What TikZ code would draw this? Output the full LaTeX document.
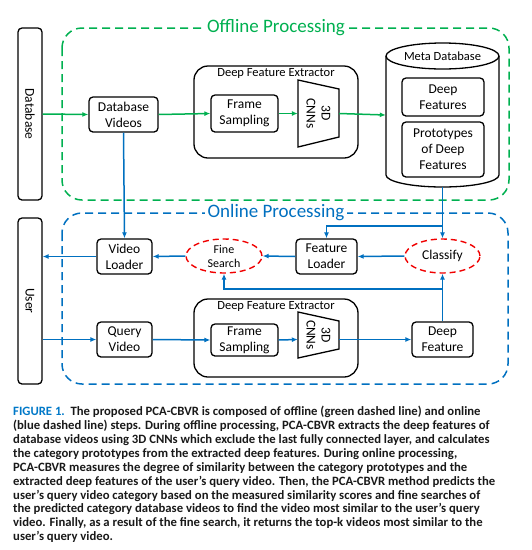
\documentclass[tikz,border=0pt]{standalone}
\usepackage{fontspec}
\setmainfont{Carlito}
\usetikzlibrary{arrows.meta,shapes.geometric}
\definecolor{grn}{RGB}{0,176,80}
\definecolor{blu}{RGB}{0,112,192}
\definecolor{rd}{RGB}{240,0,0}
\definecolor{capblue}{RGB}{0,120,200}
\begin{document}
\begin{tikzpicture}[x=1pt,y=-1pt,
  box/.style={draw, line width=1.3pt, rounded corners=4pt, align=center, inner sep=0pt, font=\fontsize{13.5}{16}\selectfont},
  bar/.style={draw, line width=1.3pt, rounded corners=4pt, inner sep=0pt, minimum width=24pt},
  ghost/.style={inner sep=0pt, draw=none},
  redell/.style={draw=rd, dashed, dash pattern=on 6pt off 4pt, line width=1.4pt, ellipse, inner sep=0pt, align=center},
  garr/.style={draw=grn, line width=1.5pt, -{Latex[length=6pt,width=5pt]}},
  barr/.style={draw=blu, line width=1.5pt, -{Latex[length=6pt,width=5pt]}},
  region/.style={line width=1.5pt, dash pattern=on 8pt off 5pt, rounded corners=20pt},
  rtitle/.style={fill=white, inner sep=3pt, font=\fontsize{19}{22}\selectfont},
  dfelabel/.style={font=\fontsize{12.5}{14}\selectfont},
  trap/.style={line width=1.3pt}
]
\useasboundingbox (0,0) rectangle (532,550);

% regions
\draw[region, draw=grn] (62,28) rectangle (509,200);
\node[rtitle, text=grn] (offt) at (276,28) {Offline Processing};
\draw[region, draw=blu] (62,213) rectangle (508,384);
\node[rtitle, text=blu] (onlt) at (276,213) {Online Processing};

% side bars
\node[bar, minimum height=172pt] (db) at (30,114) {};
\node[rotate=-90, font=\fontsize{13.5}{16}\selectfont] (dbt) at (30,114) {Database};
\node[bar, minimum height=166pt] (usr) at (30,301) {};
\node[rotate=-90, font=\fontsize{13.5}{16}\selectfont] (usrt) at (30,301) {User};

% offline
\node[box, minimum width=69pt, minimum height=35pt] (dbv) at (123.5,114.5) {Database\\Videos};
\node[box, rounded corners=14pt, minimum width=164pt, minimum height=92pt] (dfe1) at (276,112) {};
\node[dfelabel] (dfe1t) at (276,73) {Deep Feature Extractor};
\node[box, minimum width=67pt, minimum height=37pt] (fs1) at (244.5,113.5) {Frame\\Sampling};
\draw[trap] (298,80) -- (339,89) -- (339,137) -- (298,147) -- cycle;
\node[ghost, minimum width=41pt, minimum height=48pt] (cnn1) at (318.5,113.5) {};
\node[rotate=-90, align=center, font=\fontsize{13.5}{15}\selectfont] (cnn1t) at (318.5,113.5) {3D\\CNNs};

% meta database cylinder
\draw[line width=1.3pt, fill=white] (386,56) -- (386,175) arc[start angle=180, end angle=360, x radius=56.5pt, y radius=12pt] -- (499,56);
\draw[line width=1.3pt] (442.5,56) ellipse [x radius=56.5pt, y radius=13pt];
\node[ghost, minimum width=113pt, minimum height=144pt] (meta) at (442.5,115) {};
\node[font=\fontsize{12.5}{14}\selectfont] (metat) at (442.5,56) {Meta Database};
\node[box, minimum width=82pt, minimum height=38pt] (dfeat) at (443,97) {Deep\\Features};
\node[box, minimum width=82pt, minimum height=55pt] (proto) at (443,149.5) {Prototypes\\of Deep\\Features};

% online
\node[box, minimum width=55pt, minimum height=35pt] (vl) at (124.5,256.5) {Video\\Loader};
\node[redell, minimum width=76pt, minimum height=34pt, font=\fontsize{12}{14}\selectfont] (fsr) at (224,256) {Fine\\Search};
\node[box, minimum width=61pt, minimum height=35pt] (fl) at (326.5,256.5) {Feature\\Loader};
\node[redell, minimum width=75pt, minimum height=34pt, font=\fontsize{13.5}{16}\selectfont] (cls) at (442.5,256) {Classify};

\node[box, minimum width=55pt, minimum height=35pt] (qv) at (124.5,339.5) {Query\\Video};
\node[box, rounded corners=14pt, minimum width=164pt, minimum height=78pt] (dfe2) at (276,338) {};
\node[dfelabel] (dfe2t) at (276,306) {Deep Feature Extractor};
\node[box, minimum width=67pt, minimum height=32pt] (fs2) at (244.5,340) {Frame\\Sampling};
\draw[trap] (298,312) -- (339,321) -- (339,349) -- (298,358) -- cycle;
\node[ghost, minimum width=41pt, minimum height=28pt] (cnn2) at (318.5,339.5) {};
\node[rotate=-90, align=center, font=\fontsize{13.5}{15}\selectfont] (cnn2t) at (318.5,335) {3D\\CNNs};
\node[box, minimum width=61pt, minimum height=35pt] (df) at (442.5,339.5) {Deep\\Feature};

% offline arrows
\draw[garr] (db.east) -- (dbv.west);
\draw[garr] (dbv.east) -- (fs1.west);
\draw[garr] (fs1.east) -- (cnn1.west);
\draw[garr] (cnn1.east) -- (meta.west);

% online arrows
\coordinate (br1) at (442.5,226);
\coordinate (br2) at (442.5,289);
\draw[barr] (dbv.south) -- (vl.north);
\draw[barr] (meta.south) -- (cls.north);
\draw[barr] (br1) -| (fl.north);
\draw[barr] (cls.west) -- (fl.east);
\draw[barr] (fl.west) -- (fsr.east);
\draw[barr] (fsr.west) -- (vl.east);
\draw[barr] (vl.west) -- (vl.west -| usr.east);
\draw[barr] (df.north) -- (cls.south);
\draw[barr] (br2) -| (fsr.south);
\draw[barr] (qv.west -| usr.east) -- (qv.west);
\draw[barr] (qv.east) -- (fs2.west);
\draw[barr] (fs2.east) -- (cnn2.west);
\draw[barr] (cnn2.east) -- (df.west);

% caption
\node[anchor=north west, align=left, inner sep=0pt, font=\fontsize{12.7}{13.9}\selectfont\bfseries, text=black!90] (cap) at (13,406)
{{\color{capblue}FIGURE 1.}\ \ The proposed PCA-CBVR is composed of offline (green dashed line) and online\\
(blue dashed line) steps. During offline processing, PCA-CBVR extracts the deep features of\\
database videos using 3D CNNs which exclude the last fully connected layer, and calculates\\
the category prototypes from the extracted deep features. During online processing,\\
PCA-CBVR measures the degree of similarity between the category prototypes and the\\
extracted deep features of the user’s query video. Then, the PCA-CBVR method predicts the\\
user’s query video category based on the measured similarity scores and fine searches of\\
the predicted category database videos to find the video most similar to the user’s query\\
video. Finally, as a result of the fine search, it returns the top-k videos most similar to the\\
user’s query video.};
\end{tikzpicture}
\end{document}
